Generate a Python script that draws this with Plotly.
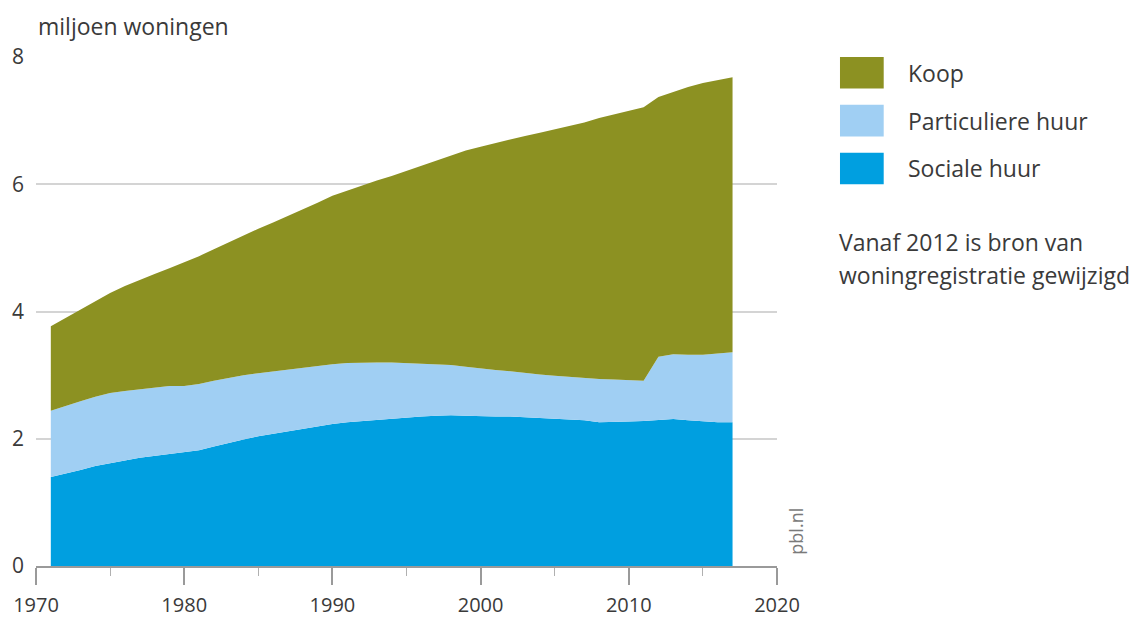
import plotly.graph_objects as go

years = list(range(1971, 2018))

sociale_huur = [1.40, 1.45, 1.51, 1.57, 1.62, 1.66, 1.70, 1.73, 1.76, 1.78,
                1.82, 1.88, 1.94, 1.99, 2.04, 2.08, 2.12, 2.16, 2.20, 2.23,
                2.26, 2.28, 2.30, 2.32, 2.33, 2.35, 2.36, 2.37, 2.36, 2.35,
                2.35, 2.35, 2.34, 2.32, 2.31, 2.30, 2.29, 2.26, 2.26, 2.27,
                2.28, 2.29, 2.31, 2.29, 2.27, 2.26, 2.26]

particuliere_huur = [1.04, 1.07, 1.08, 1.09, 1.10, 1.09, 1.08, 1.08, 1.07, 1.05,
                     1.04, 1.03, 1.02, 1.01, 0.99, 0.98, 0.97, 0.96, 0.95, 0.94,
                     0.93, 0.92, 0.90, 0.88, 0.86, 0.83, 0.81, 0.79, 0.77, 0.75,
                     0.73, 0.71, 0.69, 0.69, 0.68, 0.67, 0.66, 0.68, 0.67, 0.65,
                     0.63, 1.00, 1.02, 1.03, 1.05, 1.08, 1.10]

koop = [1.33, 1.38, 1.44, 1.51, 1.57, 1.65, 1.72, 1.78, 1.85, 1.94,
        2.01, 2.07, 2.13, 2.20, 2.27, 2.34, 2.41, 2.48, 2.56, 2.65,
        2.71, 2.79, 2.86, 2.93, 3.02, 3.11, 3.21, 3.30, 3.40, 3.49,
        3.57, 3.65, 3.73, 3.80, 3.87, 3.94, 4.02, 4.10, 4.17, 4.24,
        4.30, 4.08, 4.12, 4.21, 4.27, 4.30, 4.32]

series_names = ["Sociale huur", "Particuliere huur", "Koop"]
series_values = [sociale_huur, particuliere_huur, koop]
series_colors = ["#009FE0", "#A0CFF3", "#8C9122"]

x_tickvals = [1970, 1980, 1990, 2000, 2010, 2020]
y_tickvals = [0, 2, 4, 6, 8]

FONT = "Open Sans"
TXT = "#3a3a3a"
TXT_SIZE = 23

fig = go.Figure()
for name, vals, col in zip(series_names, series_values, series_colors):
    fig.add_trace(go.Scatter(
        x=years, y=vals, name=name, mode="lines",
        stackgroup="one", line=dict(width=0, color=col),
        fillcolor=col, hoverinfo="x+y+name",
    ))

fig.update_layout(
    width=1139, height=610,
    margin=dict(l=28, r=370, t=49, b=52, autoexpand=False),
    paper_bgcolor="white", plot_bgcolor="white",
    showlegend=False,
    font=dict(family=FONT, color=TXT, size=TXT_SIZE),
    xaxis=dict(
        range=[1970, 2020], tickvals=x_tickvals, automargin=False,
        showgrid=False, zeroline=False,
        showline=True, linecolor="#9a9a9a", linewidth=1.5,
        ticks="outside", ticklen=17, tickcolor="#9a9a9a", tickwidth=1.5,
        ticklabelstandoff=3,
        minor=dict(dtick=5, tick0=1970, ticks="outside", ticklen=8,
                   tickcolor="#b0b0b0", tickwidth=1.2, showgrid=False),
        tickfont=dict(size=20, color=TXT),
    ),
    yaxis=dict(
        range=[0, 8], tickvals=y_tickvals, automargin=False,
        showgrid=True, gridcolor="#d4d4d4", gridwidth=1.6,
        zeroline=False, showline=False, ticks="",
        ticklabelstandoff=11,
        tickfont=dict(size=21, color=TXT),
    ),
)

# axis title
fig.add_annotation(xref="paper", yref="paper", x=0, y=1.061,
                   text="miljoen woningen", showarrow=False,
                   xanchor="left", yanchor="middle",
                   font=dict(size=TXT_SIZE, color=TXT))

# custom legend
legend_items = [("Koop", "#8C9122", 0.969), ("Particuliere huur", "#A0CFF3", 0.875),
                ("Sociale huur", "#009FE0", 0.781)]
for label, col, yc in legend_items:
    fig.add_shape(type="rect", xref="paper", yref="paper",
                  x0=1.085, x1=1.144, y0=yc - 0.031, y1=yc + 0.031,
                  fillcolor=col, line=dict(width=0))
    fig.add_annotation(xref="paper", yref="paper", x=1.174, y=yc,
                       text=label, showarrow=False, xanchor="left",
                       yanchor="middle", font=dict(size=TXT_SIZE, color=TXT))

fig.add_annotation(xref="paper", yref="paper", x=1.081, y=0.636,
                   text="Vanaf 2012 is bron van", showarrow=False,
                   xanchor="left", yanchor="middle", font=dict(size=TXT_SIZE, color=TXT))
fig.add_annotation(xref="paper", yref="paper", x=1.081, y=0.571,
                   text="woningregistratie gewijzigd", showarrow=False,
                   xanchor="left", yanchor="middle", font=dict(size=TXT_SIZE, color=TXT))

# source
fig.add_annotation(xref="paper", yref="paper", x=1.026, y=0.068,
                   text="pbl.nl", showarrow=False, textangle=-90,
                   xanchor="center", yanchor="middle",
                   font=dict(size=18, color="#7a7a7a"))

fig.write_html("out.html")
